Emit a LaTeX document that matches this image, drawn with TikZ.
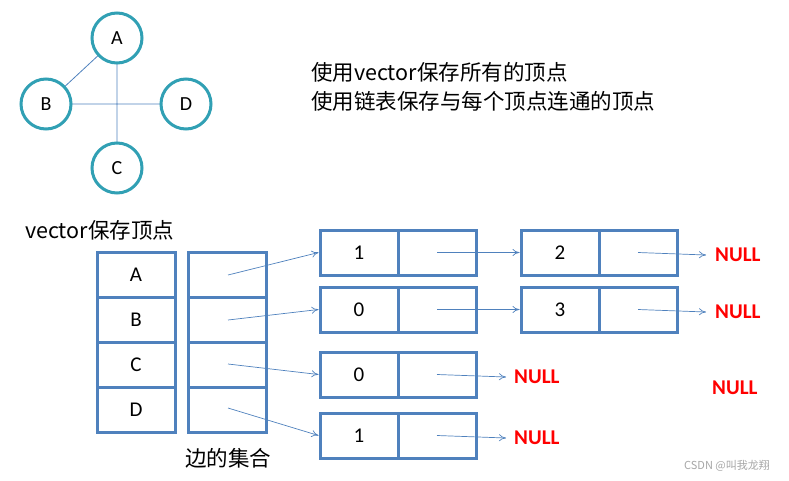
\documentclass[tikz,border=0pt]{standalone}
\usepackage{fontspec}
\setmainfont{Carlito}
\newfontfamily\cjk{Noto Sans CJK SC}
\usetikzlibrary{arrows.meta}
\definecolor{bl}{HTML}{4F81BD}
\definecolor{tl}{HTML}{31A0B4}
\tikzset{x=1pt,y=-1pt,
 vnode/.style={circle,draw=tl,line width=3pt,fill=white,minimum size=50pt,inner sep=0pt,font=\fontsize{20}{20}\selectfont},
 cell/.style={draw=bl,line width=3pt,minimum width=78pt,minimum height=45pt,inner sep=0pt,font=\fontsize{21}{21}\selectfont},
 ptr/.style={draw=bl,line width=0.7pt,-{To[length=7pt,width=7pt]}},
 nul/.style={text=red,font=\bfseries\fontsize{21}{21}\selectfont,inner sep=1pt},
 lbl/.style={font=\cjk\fontsize{21.5}{24}\selectfont,inner sep=0pt,anchor=west}}
\begin{document}
\begin{tikzpicture}
\useasboundingbox (0,0) rectangle (789,480);
% graph
\draw[bl,line width=0.8pt] (117,38) -- (46,104) (46,104) -- (186,104) (117,38) -- (117,168);
\node[vnode] (A) at (117,38) {A};
\node[vnode] (B) at (46,104) {B};
\node[vnode] (D) at (186,104) {D};
\node[vnode] (C) at (117,168) {C};
\node[lbl] (t1) at (311,72) {使用vector保存所有的顶点};
\node[lbl] (t2) at (311,101) {使用链表保存与每个顶点连通的顶点};
\node[lbl] (t3) at (25,230) {vector保存顶点};
\node[lbl] (t4) at (185,458) {边的集合};
% vector
\foreach \l/\y [count=\i] in {A/274.5,B/319.5,C/364.5,D/409.5}{
 \node[cell] (v\i) at (136,\y) {\l};
 \node[cell] (e\i) at (227,\y) {};
}
% lists
\node[cell] (a1) at (359,252.5) {1}; \node[cell] (a1n) at (437,252.5) {};
\node[cell] (a2) at (560,252.5) {2}; \node[cell] (a2n) at (638,252.5) {};
\node[cell] (b1) at (359,309.5) {0}; \node[cell] (b1n) at (437,309.5) {};
\node[cell] (b2) at (560,309.5) {3}; \node[cell] (b2n) at (638,309.5) {};
\node[cell] (c1) at (359,374.5) {0}; \node[cell] (c1n) at (437,374.5) {};
\node[cell] (d1) at (359,435.5) {1}; \node[cell] (d1n) at (437,435.5) {};
\node[nul,anchor=west] (n1) at (714,255) {NULL};
\node[nul,anchor=west] (n2) at (714,312) {NULL};
\node[nul,anchor=west] (n3) at (513,377) {NULL};
\node[nul,anchor=west] (n4) at (513,438) {NULL};
\node[nul,anchor=west] (n5) at (711,388) {NULL};
\coordinate (p1) at (228,275); \coordinate (p2) at (228,320);
\coordinate (p3) at (228,364); \coordinate (p4) at (228,408);
\coordinate (q1) at (706,255); \coordinate (q2) at (706,312);
\coordinate (q3) at (506,377); \coordinate (q4) at (506,438);
\draw[ptr] (p1) -- (a1.west);
\draw[ptr] (p2) -- (b1.west);
\draw[ptr] (p3) -- (c1.west);
\draw[ptr] (p4) -- (d1.west);
\draw[ptr] (a1n.center) -- (a2.west);
\draw[ptr] (b1n.center) -- (b2.west);
\draw[ptr] (a2n.center) -- (q1);
\draw[ptr] (b2n.center) -- (q2);
\draw[ptr] (c1n.center) -- (q3);
\draw[ptr] (d1n.center) -- (q4);
\node[text=gray!70,font=\cjk\fontsize{11}{11}\selectfont] (wm) at (727,466) {CSDN @叫我龙翔};
\end{tikzpicture}
\end{document}
